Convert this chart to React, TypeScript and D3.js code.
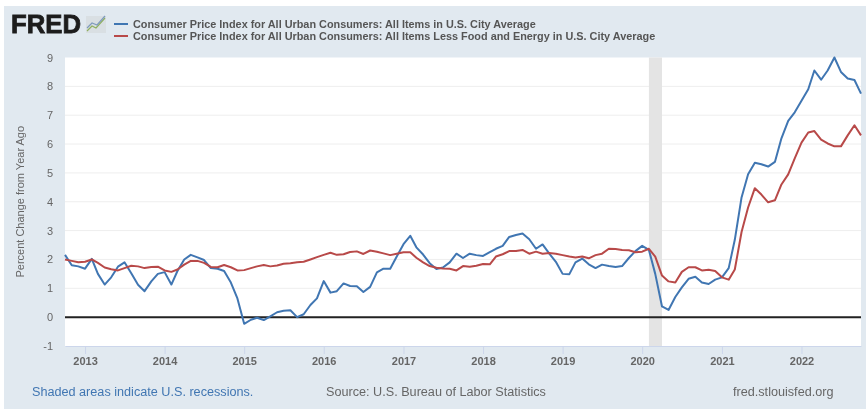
import { useEffect, useRef } from "react";
import * as d3 from "d3";

const width = 866;
const height = 409;
const marginLeft = 65;
const marginRight = 5;
const marginTop = 57.5;
const marginBottom = 63;

const startMonth = new Date(2012, 9, 1);
const endMonth = new Date(2022, 9, 1);
const recessionStart = new Date(2020, 1, 1);
const recessionEnd = new Date(2020, 3, 1);

const allItems = [
  2.16, 1.8, 1.76,
  1.68, 2.02, 1.5, 1.13, 1.38, 1.75, 1.9, 1.52, 1.12, 0.9, 1.24, 1.5,
  1.56, 1.13, 1.6, 2.0, 2.16, 2.07, 1.98, 1.7, 1.68, 1.6, 1.2, 0.65,
  -0.23, -0.09, -0.02, -0.1, 0.03, 0.17, 0.22, 0.24, 0.0, 0.1, 0.42, 0.65,
  1.25, 0.85, 0.9, 1.17, 1.08, 1.07, 0.87, 1.05, 1.55, 1.68, 1.68, 2.1,
  2.53, 2.82, 2.42, 2.17, 1.87, 1.67, 1.72, 1.9, 2.2, 2.05, 2.2, 2.15,
  2.12, 2.25, 2.37, 2.47, 2.78, 2.85, 2.9, 2.7, 2.37, 2.52, 2.2, 1.92,
  1.5, 1.49, 1.9, 2.03, 1.83, 1.7, 1.82, 1.77, 1.74, 1.77, 2.05, 2.29,
  2.47, 2.33, 1.5, 0.37, 0.25, 0.7, 1.03, 1.33, 1.4, 1.2, 1.15, 1.3,
  1.38, 1.7, 2.68, 4.15, 4.95, 5.35, 5.3, 5.22, 5.38, 6.2, 6.8, 7.1,
  7.5, 7.9, 8.55, 8.23, 8.55, 9.0, 8.5, 8.27, 8.22, 7.75,
];

const lessFoodEnergy = [
  2.0, 1.95, 1.9,
  1.92, 2.0, 1.88, 1.72, 1.66, 1.62, 1.7, 1.78, 1.76, 1.7, 1.74, 1.75,
  1.62, 1.57, 1.65, 1.82, 1.95, 1.95, 1.88, 1.74, 1.73, 1.81, 1.73, 1.62,
  1.63, 1.7, 1.76, 1.81, 1.76, 1.79, 1.85, 1.87, 1.9, 1.92, 2.0, 2.08,
  2.16, 2.23, 2.16, 2.18, 2.26, 2.28, 2.19, 2.31, 2.27, 2.21, 2.15, 2.2,
  2.25, 2.25, 2.06, 1.9, 1.77, 1.71, 1.69, 1.68, 1.62, 1.77, 1.75, 1.78,
  1.84, 1.83, 2.1, 2.18, 2.29, 2.29, 2.33, 2.2, 2.27, 2.2, 2.22, 2.2,
  2.15, 2.1, 2.07, 2.1, 2.04, 2.15, 2.2, 2.37, 2.36, 2.33, 2.32, 2.25,
  2.27, 2.37, 2.1, 1.44, 1.24, 1.2, 1.57, 1.73, 1.73, 1.62, 1.64, 1.6,
  1.38, 1.3, 1.65, 2.95, 3.8, 4.47, 4.25, 3.98, 4.05, 4.6, 4.95, 5.5,
  6.05, 6.4, 6.45, 6.15, 6.02, 5.92, 5.92, 6.3, 6.65, 6.3,
];

const yTicks = [-1, 0, 1, 2, 3, 4, 5, 6, 7, 8, 9];
const seriesNames = [
  "Consumer Price Index for All Urban Consumers: All Items in U.S. City Average",
  "Consumer Price Index for All Urban Consumers: All Items Less Food and Energy in U.S. City Average",
];
const seriesColors = ["#4176b2", "#b84a48"];
const font = "'Liberation Sans', Arial, sans-serif";

export default function App() {
  const gx = useRef<SVGGElement>(null);
  const gy = useRef<SVGGElement>(null);

  const xscale = d3
    .scaleTime()
    .domain([startMonth, endMonth])
    .range([marginLeft, width - marginRight]);
  const yscale = d3
    .scaleLinear()
    .domain([-1, 9])
    .range([height - marginBottom, marginTop]);

  const monthOf = (i: number) => d3.timeMonth.offset(startMonth, i);
  const line = d3
    .line<number>()
    .x((_, i) => xscale(monthOf(i)))
    .y((d) => yscale(d));

  useEffect(() => {
    const axis = d3
      .axisBottom(xscale)
      .ticks(d3.timeYear.every(1))
      .tickFormat((d) => d3.timeFormat("%Y")(d as Date))
      .tickSizeInner(8)
      .tickSizeOuter(0)
      .tickPadding(3);
    const g = d3.select(gx.current).call(axis as any);
    g.select(".domain").attr("stroke", "#ccd6eb");
    g.selectAll(".tick line").attr("stroke", "#ccd6eb");
    g.selectAll(".tick text")
      .attr("fill", "#666666")
      .attr("font-size", 11)
      .attr("font-weight", "bold")
      .attr("font-family", font);
  }, [xscale]);

  useEffect(() => {
    const axis = d3
      .axisLeft(yscale)
      .tickValues(yTicks)
      .tickFormat((d) => String(d))
      .tickSize(0)
      .tickPadding(12);
    const g = d3.select(gy.current).call(axis as any);
    g.select(".domain").remove();
    g.selectAll(".tick text")
      .attr("fill", "#666666")
      .attr("font-size", 11)
      .attr("font-family", font);
  }, [yscale]);

  return (
    <svg
      width={width}
      height={height}
      style={{ position: "absolute", left: 0, top: 0, display: "block" }}
    >
      <defs>
        <filter id="soft" x="-5%" y="-5%" width="110%" height="110%">
          <feGaussianBlur stdDeviation="0.45" />
        </filter>
      </defs>
      <rect width={width} height={height} fill="#ffffff" />
      <g filter="url(#soft)">
        <rect x={4} y={6} width={width - 4} height={height - 6} fill="#e1e9f0" />
        <rect
          x={marginLeft}
          y={marginTop}
          width={width - marginLeft - marginRight}
          height={height - marginTop - marginBottom}
          fill="#ffffff"
        />
        {yTicks
          .filter((d) => d > -1 && d < 9)
          .map((d) => (
            <line
              key={d}
              x1={marginLeft}
              x2={width - marginRight}
              y1={yscale(d)}
              y2={yscale(d)}
              stroke="#eeeeee"
            />
          ))}
        <rect
          x={xscale(recessionStart)}
          y={marginTop}
          width={xscale(recessionEnd) - xscale(recessionStart)}
          height={height - marginTop - marginBottom}
          fill="#e4e4e4"
        />
        <g ref={gx} transform={`translate(0,${height - marginBottom})`} />
        <g ref={gy} transform={`translate(${marginLeft},0)`} />
        <line
          x1={marginLeft}
          x2={width - marginRight}
          y1={yscale(0)}
          y2={yscale(0)}
          stroke="#222222"
          strokeWidth={2}
        />
        <path
          d={line(allItems) ?? ""}
          fill="none"
          stroke={seriesColors[0]}
          strokeWidth={2}
          strokeLinejoin="round"
        />
        <path
          d={line(lessFoodEnergy) ?? ""}
          fill="none"
          stroke={seriesColors[1]}
          strokeWidth={2}
          strokeLinejoin="round"
        />

        {/* logo */}
        <text
          x={11}
          y={33}
          fontFamily={font}
          fontWeight="bold"
          fontSize={26}
          fill="#1c1c1c"
          stroke="#1c1c1c"
          strokeWidth={0.8}
          textLength={70}
          lengthAdjust="spacingAndGlyphs"
        >
          FRED
        </text>
        <rect x={86} y={16} width={20} height={17} fill="#d9dfe3" />
        <path d="M87 31 L92 26 L96 28 L105 18" fill="none" stroke="#8fb060" strokeWidth={1.2} />
        <path d="M87 28 L92 23 L97 25 L105 16" fill="none" stroke="#7f9bbd" strokeWidth={1.2} />

        {/* legend */}
        {seriesNames.map((name, i) => (
          <g key={name}>
            <line
              x1={114}
              x2={128}
              y1={24 + i * 12}
              y2={24 + i * 12}
              stroke={seriesColors[i]}
              strokeWidth={2}
            />
            <text
              x={133}
              y={28 + i * 12}
              fontFamily={font}
              fontWeight="bold"
              fontSize={10.87}
              fill="#555555"
            >
              {name}
            </text>
          </g>
        ))}

        <text
          transform={`translate(24,${yscale(4)}) rotate(-90)`}
          textAnchor="middle"
          fontFamily={font}
          fontSize={11}
          fill="#666666"
        >
          Percent Change from Year Ago
        </text>

        <text x={32} y={396} fontFamily={font} fontSize={12.65} fill="#4176b2">
          Shaded areas indicate U.S. recessions.
        </text>
        <text x={326} y={396} fontFamily={font} fontSize={12.65} fill="#666666">
          Source: U.S. Bureau of Labor Statistics
        </text>
        <text x={733} y={396} fontFamily={font} fontSize={12.65} fill="#666666">
          fred.stlouisfed.org
        </text>
      </g>
    </svg>
  );
}
